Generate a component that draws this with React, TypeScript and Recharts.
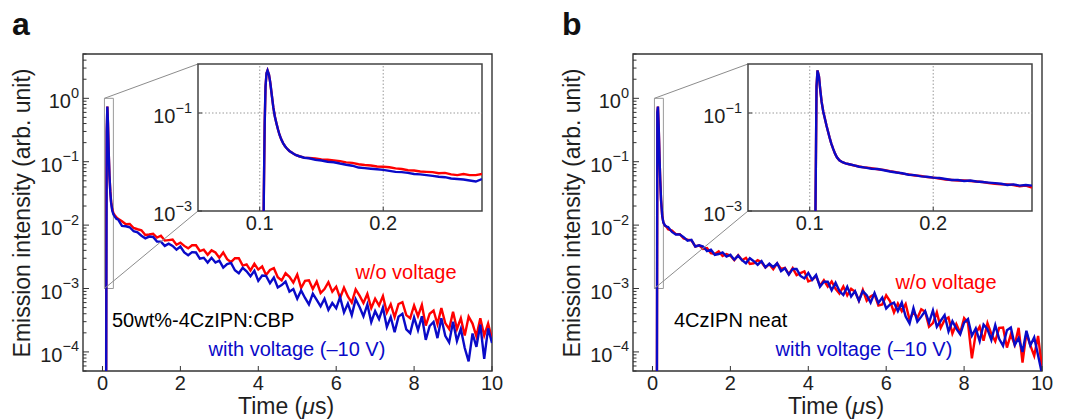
import { Line, LineChart, ReferenceArea, ReferenceLine, XAxis, YAxis } from "recharts";

const FONT = '"Liberation Sans", Arial, Helvetica, sans-serif';
const RED = "#ff0000";
const BLUE = "#0a0ac8";
const INK = "#1e1e1e";
const FRAME = "#333";

// time grid of the main plots (µs)
const mainTime = [
  0.05, 0.09, 0.1, 0.11, 0.125, 0.14, 0.16, 0.18, 0.2, 0.22, 0.25, 0.28, 0.32, 0.36,
  0.4, 0.5, 0.6, 0.7, 0.8, 0.9,
  1.0, 1.1, 1.2, 1.3, 1.4, 1.5, 1.6, 1.7, 1.8, 1.9,
  2.0, 2.1, 2.2, 2.3, 2.4, 2.5, 2.6, 2.7, 2.8, 2.9,
  3.0, 3.1, 3.2, 3.3, 3.4, 3.5, 3.6, 3.7, 3.8, 3.9,
  4.0, 4.1, 4.2, 4.3, 4.4, 4.5, 4.6, 4.7, 4.8, 4.9,
  5.0, 5.1, 5.2, 5.3, 5.4, 5.5, 5.6, 5.7, 5.8, 5.9,
  6.0, 6.1, 6.2, 6.3, 6.4, 6.5, 6.6, 6.7, 6.8, 6.9,
  7.0, 7.1, 7.2, 7.3, 7.4, 7.5, 7.6, 7.7, 7.8, 7.9,
  8.0, 8.1, 8.2, 8.3, 8.4, 8.5, 8.6, 8.7, 8.8, 8.9,
  9.0, 9.1, 9.2, 9.3, 9.4, 9.5, 9.6, 9.7, 9.8, 9.9,
  10.0,
];

// panel a: 50wt%-4CzIPN:CBP
const aNoVoltage = [
  1e-6, 1e-6, 0.02, 0.3, 0.74, 0.42, 0.14, 0.06, 0.035, 0.024, 0.018, 0.0155, 0.0142, 0.0133,
  1.26e-2, 1.15e-2, 1.03e-2, 1.04e-2, 9.0e-3, 8.6e-3,
  8.3e-3, 7.0e-3, 7.1e-3, 7.3e-3, 6.35e-3, 6.8e-3, 5.7e-3, 5.8e-3, 5.9e-3, 4.9e-3,
  5.3e-3, 4.7e-3, 4.3e-3, 4.8e-3, 4.8e-3, 3.9e-3, 4.1e-3, 3.4e-3, 4.0e-3, 3.7e-3,
  3.05e-3, 3.7e-3, 2.9e-3, 2.6e-3, 3.0e-3, 3.0e-3, 2.3e-3, 2.4e-3, 1.93e-3, 2.45e-3,
  1.99e-3, 2.23e-3, 1.64e-3, 1.96e-3, 2.09e-3, 1.51e-3, 1.34e-3, 1.74e-3, 1.53e-3, 1.24e-3,
  1.66e-3, 1.02e-3, 1.32e-3, 1.35e-3, 9.8e-4, 1.29e-3, 8.5e-4, 9.8e-4, 1.26e-3, 8.9e-4,
  1.07e-3, 7.1e-4, 1.03e-3, 7.5e-4, 6.0e-4, 9.7e-4, 7.7e-4, 5.9e-4, 8.2e-4, 4.9e-4,
  6.9e-4, 5.4e-4, 7.6e-4, 4.2e-4, 5.65e-4, 3.55e-4, 5.7e-4, 6.1e-4, 3.8e-4, 3.4e-4,
  5.4e-4, 3.65e-4, 5.5e-4, 2.6e-4, 4.0e-4, 4.5e-4, 2.75e-4, 4.9e-4, 2.85e-4, 2.3e-4,
  4.3e-4, 2.3e-4, 3.4e-4, 1.82e-4, 3.6e-4, 2.8e-4, 1.76e-4, 3.4e-4, 1.82e-4, 2.8e-4,
  1.6e-4,
];
const aWithVoltage = [
  1e-6, 1e-6, 1e-3, 0.3, 0.74, 0.42, 0.14, 0.06, 0.034, 0.023, 0.017, 0.0148, 0.0135, 0.0125,
  1.23e-2, 9.7e-3, 9.6e-3, 9.25e-3, 8.0e-3, 7.7e-3,
  6.8e-3, 6.2e-3, 6.6e-3, 6.5e-3, 5.5e-3, 5.5e-3, 4.7e-3, 5.1e-3, 4.7e-3, 4.1e-3,
  4.6e-3, 3.7e-3, 3.35e-3, 3.75e-3, 3.7e-3, 2.95e-3, 3.05e-3, 2.57e-3, 3.05e-3, 2.57e-3,
  2.75e-3, 2.13e-3, 2.43e-3, 2.54e-3, 1.94e-3, 1.74e-3, 2.12e-3, 1.87e-3, 1.56e-3, 1.9e-3,
  1.32e-3, 1.6e-3, 1.58e-3, 1.21e-3, 1.49e-3, 1.04e-3, 1.13e-3, 1.29e-3, 8.9e-4, 9.8e-4,
  6.9e-4, 9.3e-4, 7.1e-4, 5.6e-4, 8.3e-4, 6.6e-4, 5.25e-4, 6.9e-4, 4.6e-4, 5.9e-4,
  4.9e-4, 7.3e-4, 4.2e-4, 5.8e-4, 3.8e-4, 6.8e-4, 5.1e-4, 3.65e-4, 5.6e-4, 2.95e-4,
  4.4e-4, 3.3e-4, 5.0e-4, 2.47e-4, 3.55e-4, 2.05e-4, 3.6e-4, 4.0e-4, 2.27e-4, 1.98e-4,
  3.5e-4, 2.2e-4, 3.65e-4, 1.55e-4, 2.56e-4, 2.98e-4, 1.65e-4, 3.4e-4, 1.8e-4, 1.41e-4,
  3.0e-4, 1.49e-4, 2.3e-4, 1.15e-4, 7.1e-5, 1.95e-4, 1.2e-4, 2.7e-4, 7.8e-5, 2.35e-4,
  1.38e-4,
];

// panel b: 4CzIPN neat
const bNoVoltage = [
  1e-6, 1e-6, 1e-6, 1e-6, 0.6, 0.74, 0.35, 0.12, 0.05, 0.025, 0.014, 0.011, 0.0098, 0.0094,
  8.6e-3, 8.2e-3, 7.2e-3, 7.2e-3, 6.15e-3, 5.9e-3,
  5.75e-3, 4.6e-3, 4.8e-3, 4.2e-3, 4.35e-3, 3.6e-3, 3.5e-3, 3.85e-3, 3.25e-3, 3.5e-3,
  3.3e-3, 2.8e-3, 3.35e-3, 2.8e-3, 3.05e-3, 2.45e-3, 2.5e-3, 2.8e-3, 2.6e-3, 2.14e-3,
  2.42e-3, 2.02e-3, 2.5e-3, 2.03e-3, 2.12e-3, 1.68e-3, 2.1e-3, 1.63e-3, 1.75e-3, 1.86e-3,
  1.29e-3, 1.37e-3, 1.57e-3, 1.11e-3, 1.35e-3, 1.07e-3, 1.29e-3, 9.9e-4, 8.3e-4, 1.08e-3,
  7.8e-4, 9.9e-4, 8.9e-4, 6.4e-4, 9.5e-4, 6.4e-4, 7.5e-4, 8.1e-4, 5.4e-4, 5.6e-4,
  7.8e-4, 6.3e-4, 4.2e-4, 5.8e-4, 4.4e-4, 5.7e-4, 3.2e-4, 4.3e-4, 3.4e-4, 4.7e-4,
  4.3e-4, 2.5e-4, 2.85e-4, 4.2e-4, 2.4e-4, 3.2e-4, 3.5e-4, 1.95e-4, 2.75e-4, 2.0e-4,
  3.4e-4, 2.85e-4, 7.9e-5, 1.96e-4, 2.5e-4, 1.5e-4, 2.85e-4, 1.92e-4, 1.47e-4, 2.4e-4,
  2.43e-4, 1.17e-4, 1.89e-4, 1.29e-4, 2.4e-4, 6.8e-5, 1.98e-4, 1.27e-4, 8.7e-5, 1.79e-4,
  5.6e-5,
];
const bWithVoltage = [
  1e-6, 1e-6, 1e-6, 1e-6, 0.6, 0.74, 0.35, 0.12, 0.05, 0.025, 0.014, 0.011, 0.0099, 0.0095,
  9.3e-3, 7.8e-3, 7.1e-3, 7.15e-3, 6.45e-3, 5.7e-3,
  5.85e-3, 4.6e-3, 4.8e-3, 4.6e-3, 3.9e-3, 4.1e-3, 3.4e-3, 3.5e-3, 3.7e-3, 3.2e-3,
  3.4e-3, 2.85e-3, 3.3e-3, 2.8e-3, 2.5e-3, 3.0e-3, 2.7e-3, 2.37e-3, 2.7e-3, 2.16e-3,
  2.46e-3, 2.17e-3, 2.5e-3, 1.88e-3, 2.09e-3, 1.66e-3, 2.04e-3, 2.03e-3, 1.58e-3, 1.44e-3,
  1.76e-3, 1.37e-3, 1.63e-3, 1.07e-3, 1.28e-3, 1.28e-3, 9.4e-4, 1.23e-3, 9.1e-4, 7.9e-4,
  1.07e-3, 7.5e-4, 9.1e-4, 6.4e-4, 9.1e-4, 7.85e-4, 6.0e-4, 8.5e-4, 5.9e-4, 7.2e-4,
  4.85e-4, 5.6e-4, 6.0e-4, 4.4e-4, 6.0e-4, 3.6e-4, 2.8e-4, 4.9e-4, 3.0e-4, 3.6e-4,
  4.4e-4, 2.9e-4, 4.5e-4, 2.5e-4, 3.1e-4, 3.8e-4, 2.1e-4, 3.05e-4, 2.33e-4, 1.9e-4,
  2.9e-4, 3.3e-4, 1.8e-4, 2.35e-4, 1.48e-4, 2.7e-4, 2.28e-4, 1.54e-4, 2.65e-4, 1.61e-4,
  1.25e-4, 2.2e-4, 2.42e-4, 1.29e-4, 1.65e-4, 1.0e-4, 2.15e-4, 1.27e-4, 1.69e-4, 8.8e-5,
  4.5e-5,
];

// insets: first 0.28 µs
const insetTime = [
  0.1, 0.1025, 0.1033, 0.104, 0.1047, 0.1055, 0.1063, 0.1075, 0.1085, 0.1096, 0.111, 0.1122,
  0.1135, 0.1148, 0.116, 0.1174, 0.119, 0.1205, 0.122, 0.124, 0.1265, 0.129, 0.132, 0.136,
  0.14, 0.145, 0.15, 0.155, 0.16, 0.165, 0.17, 0.175, 0.18, 0.185, 0.19, 0.195, 0.2, 0.205,
  0.21, 0.215, 0.22, 0.225, 0.23, 0.235, 0.24, 0.245, 0.25, 0.255, 0.26, 0.265, 0.27, 0.275,
  0.28,
];
const aInsetNoVoltage = [
  1e-5, 1e-5, 2e-3, 0.06, 0.35, 0.65, 0.74, 0.6, 0.42, 0.25, 0.13, 0.086,
  0.062, 0.046, 0.036, 0.029, 0.024, 0.021, 0.0188, 0.0168, 0.0152, 0.0139, 0.0131, 0.0123,
  0.0121, 0.0118, 0.0113, 0.0111, 0.0108, 0.0104, 0.0098, 0.0096, 0.009, 0.0087, 0.0085, 0.0081, 0.008, 0.0078,
  0.0074, 0.0072, 0.0068, 0.0067, 0.0064, 0.0063, 0.0062, 0.0059, 0.006, 0.0056, 0.0054, 0.0057, 0.0054, 0.0054,
  0.0057,
];
const aInsetWithVoltage = [
  1e-5, 1e-5, 2e-3, 0.06, 0.35, 0.65, 0.74, 0.6, 0.42, 0.25, 0.13, 0.086,
  0.062, 0.046, 0.036, 0.029, 0.024, 0.021, 0.0188, 0.0168, 0.0152, 0.0139, 0.0131, 0.0122,
  0.0119, 0.0111, 0.0107, 0.0101, 0.0099, 0.0093, 0.0088, 0.0084, 0.0077, 0.0075, 0.0073, 0.0071, 0.0069, 0.0066,
  0.0063, 0.0062, 0.006, 0.0057, 0.0056, 0.0054, 0.0052, 0.005, 0.0049, 0.0046, 0.0045, 0.0044, 0.0042, 0.004,
  0.0045,
];
const bInsetNoVoltage = [
  1e-5, 1e-5, 1e-5, 1e-5, 1.5e-3, 0.35, 0.74, 0.55, 0.3, 0.17, 0.105, 0.078,
  0.056, 0.042, 0.032, 0.024, 0.0185, 0.0148, 0.0125, 0.0108, 0.0099, 0.0094, 0.009, 0.0085,
  0.0081, 0.0077, 0.0075, 0.0071, 0.0069, 0.0065, 0.0062, 0.0058, 0.0056, 0.0053, 0.0052, 0.0049, 0.0048, 0.0046,
  0.0044, 0.0043, 0.0042, 0.0042, 0.0041, 0.004, 0.0039, 0.0037, 0.0036, 0.0035, 0.0035, 0.0034, 0.0032, 0.0033,
  0.003,
];
const bInsetWithVoltage = [
  1e-5, 1e-5, 1e-5, 1e-5, 1.5e-3, 0.35, 0.74, 0.55, 0.3, 0.17, 0.105, 0.078,
  0.056, 0.042, 0.032, 0.024, 0.0185, 0.0148, 0.0125, 0.0108, 0.0099, 0.0094, 0.009, 0.0085,
  0.008, 0.0077, 0.0073, 0.0072, 0.0068, 0.0064, 0.0061, 0.0059, 0.0055, 0.0054, 0.0051, 0.005, 0.0048, 0.0047,
  0.0045, 0.0043, 0.0043, 0.0041, 0.0042, 0.004, 0.0039, 0.0038, 0.0037, 0.0036, 0.0034, 0.0035, 0.0033, 0.0034,
  0.0033,
];

const mainXTicks = [0, 2, 4, 6, 8, 10];
const insetXTicks = [0.1, 0.2];
const insetYTicks = [1e-3, 1e-1];

// layout of one panel (px, panel-relative)
const PW = 540;
const PH = 419;
const MAIN = { left: 83, top: 54, right: 492, bottom: 371 };
const INSET = { left: 198, top: 64, right: 482, bottom: 211 };
const MAIN_X: [number, number] = [-0.5, 10];
const MAIN_Y: [number, number] = [5e-5, 5];
const INSET_X: [number, number] = [0.05, 0.28];
const INSET_Y: [number, number] = [1e-3, 1];

const logTicks = (lo: number, hi: number) => {
  const out: number[] = [];
  for (let e = Math.floor(Math.log10(lo)); e <= Math.ceil(Math.log10(hi)); e++) {
    for (let m = 1; m <= 9; m++) {
      const v = m * 10 ** e;
      if (v >= lo * 0.999 && v <= hi * 1.001) out.push(v);
    }
  }
  return out;
};
const mainYTicks = logTicks(MAIN_Y[0], MAIN_Y[1]);

// inverse of the main plot scales, used to aim the zoom connectors at the inset corners
const pxToX = (px: number) =>
  MAIN_X[0] + ((px - MAIN.left) / (MAIN.right - MAIN.left)) * (MAIN_X[1] - MAIN_X[0]);
const pxToY = (py: number) => {
  const hi = Math.log10(MAIN_Y[1]);
  const lo = Math.log10(MAIN_Y[0]);
  return 10 ** (hi - ((py - MAIN.top) / (MAIN.bottom - MAIN.top)) * (hi - lo));
};

function PowerTick(props: any) {
  const { x, y, payload, gap = 4, majorLen = 6, minorLen = 3.5 } = props;
  const v = payload.value as number;
  const exp = Math.round(Math.log10(v));
  const major = Math.abs(v / 10 ** exp - 1) < 1e-6;
  return (
    <g>
      <line x1={x} y1={y} x2={x + (major ? majorLen : minorLen)} y2={y} stroke={FRAME} strokeWidth={1} />
      {major && (
        <text x={x - gap} y={y + 10} textAnchor="end" fontFamily={FONT} fill={INK}>
          <tspan fontSize={20}>10</tspan>
          <tspan fontSize={14.5} dy={-10.5}>
            {exp < 0 ? `\u2212${-exp}` : `${exp}`}
          </tspan>
        </text>
      )}
    </g>
  );
}

function LinearTick(props: any) {
  const { x, y, payload, len = 5, size = 20 } = props;
  return (
    <g>
      <line x1={x} y1={y} x2={x} y2={y - len} stroke={FRAME} strokeWidth={1} />
      <text x={x} y={y + 19} textAnchor="middle" fontFamily={FONT} fontSize={size} fill={INK}>
        {payload.value}
      </text>
    </g>
  );
}

// axes are 1px thick (recharts skips 0-sized axes), so the margins give 1px back
const margin = (box: typeof MAIN) => ({
  top: box.top,
  left: box.left - 1,
  right: PW - box.right,
  bottom: PH - box.bottom - 1,
});

function MainPlot({ noVoltage, withVoltage }: { noVoltage: number[]; withVoltage: number[] }) {
  const data = mainTime.map((t, i) => ({ t, noVoltage: noVoltage[i], withVoltage: withVoltage[i] }));
  const cornerX = pxToX(INSET.left);
  return (
    <LineChart width={PW} height={PH} data={data} margin={margin(MAIN)}>
      <XAxis
        type="number"
        dataKey="t"
        domain={MAIN_X}
        allowDataOverflow
        ticks={mainXTicks}
        interval={0}
        height={1}
        tickSize={0}
        tickMargin={0}
        axisLine={false}
        tickLine={false}
        tick={(p: any) => <LinearTick {...p} />}
      />
      <YAxis
        type="number"
        scale="log"
        domain={MAIN_Y}
        allowDataOverflow
        ticks={mainYTicks}
        interval={0}
        width={1}
        tickSize={0}
        tickMargin={0}
        axisLine={false}
        tickLine={false}
        tick={(p: any) => <PowerTick {...p} />}
      />
      <Line
        type="linear"
        dataKey="noVoltage"
        stroke={RED}
        strokeWidth={2.4}
        dot={false}
        isAnimationActive={false}
      />
      <Line
        type="linear"
        dataKey="withVoltage"
        stroke={BLUE}
        strokeWidth={2.4}
        dot={false}
        isAnimationActive={false}
      />
      <ReferenceArea
        x1={INSET_X[0]}
        x2={INSET_X[1]}
        y1={INSET_Y[0]}
        y2={INSET_Y[1]}
        fill="none"
        stroke="#9a9a9a"
        strokeWidth={1}
      />
      <ReferenceLine
        segment={[
          { x: INSET_X[0], y: INSET_Y[1] },
          { x: cornerX, y: pxToY(INSET.top) },
        ]}
        stroke="#8c8c8c"
        strokeWidth={1}
      />
      <ReferenceLine
        segment={[
          { x: INSET_X[0], y: INSET_Y[0] },
          { x: cornerX, y: pxToY(INSET.bottom) },
        ]}
        stroke="#8c8c8c"
        strokeWidth={1}
      />
      <ReferenceArea
        x1={MAIN_X[0]}
        x2={MAIN_X[1]}
        y1={MAIN_Y[0]}
        y2={MAIN_Y[1]}
        fill="none"
        stroke={FRAME}
        strokeWidth={1.4}
      />
    </LineChart>
  );
}

function InsetPlot({ noVoltage, withVoltage }: { noVoltage: number[]; withVoltage: number[] }) {
  const data = insetTime.map((t, i) => ({ t, noVoltage: noVoltage[i], withVoltage: withVoltage[i] }));
  return (
    <LineChart width={PW} height={PH} data={data} margin={margin(INSET)}>
      <XAxis
        type="number"
        dataKey="t"
        domain={INSET_X}
        allowDataOverflow
        ticks={insetXTicks}
        interval={0}
        height={1}
        tickSize={0}
        tickMargin={0}
        axisLine={false}
        tickLine={false}
        tick={(p: any) => <LinearTick {...p} size={20} len={4} />}
      />
      <YAxis
        type="number"
        scale="log"
        domain={INSET_Y}
        allowDataOverflow
        ticks={insetYTicks}
        interval={0}
        width={1}
        tickSize={0}
        tickMargin={0}
        axisLine={false}
        tickLine={false}
        tick={(p: any) => <PowerTick {...p} gap={6} majorLen={4} />}
      />
      {insetXTicks.map((v) => (
        <ReferenceLine key={v} x={v} stroke="#9a9a9a" strokeDasharray="1.5 2" strokeWidth={1} />
      ))}
      <ReferenceLine y={insetYTicks[1]} stroke="#9a9a9a" strokeDasharray="1.5 2" strokeWidth={1} />
      <Line
        type="linear"
        dataKey="noVoltage"
        stroke={RED}
        strokeWidth={2.4}
        dot={false}
        isAnimationActive={false}
      />
      <Line
        type="linear"
        dataKey="withVoltage"
        stroke={BLUE}
        strokeWidth={2.4}
        dot={false}
        isAnimationActive={false}
      />
      <ReferenceArea
        x1={INSET_X[0]}
        x2={INSET_X[1]}
        y1={INSET_Y[0]}
        y2={INSET_Y[1]}
        fill="none"
        stroke="#444"
        strokeWidth={1.5}
      />
    </LineChart>
  );
}

type PanelProps = {
  left: number;
  letter: string;
  sample: string;
  sampleX: number;
  noVoltageLabel: [number, number];
  withVoltageLabel: [number, number];
  main: [number[], number[]];
  inset: [number[], number[]];
};

function Panel(p: PanelProps) {
  const abs = { position: "absolute" as const, left: 0, top: 0 };
  return (
    <div style={{ position: "absolute", left: p.left, top: 0, width: PW, height: PH }}>
      <div style={abs}>
        <MainPlot noVoltage={p.main[0]} withVoltage={p.main[1]} />
      </div>
      <div style={abs}>
        <InsetPlot noVoltage={p.inset[0]} withVoltage={p.inset[1]} />
      </div>
      <svg width={PW} height={PH} style={{ ...abs, pointerEvents: "none" }} fontFamily={FONT}>
        <text x={12} y={35} fontSize={32} fontWeight="bold" fill="#111">
          {p.letter}
        </text>
        <text
          transform="translate(30 213) rotate(-90)"
          textAnchor="middle"
          fontSize={23}
          fill={INK}
        >
          Emission intensity (arb. unit)
        </text>
        <text x={286} y={414} textAnchor="middle" fontSize={23} fill={INK}>
          Time (<tspan fontStyle="italic">μ</tspan>s)
        </text>
        <text x={p.sampleX} y={327} fontSize={20} fill="#000">
          {p.sample}
        </text>
        <text x={p.noVoltageLabel[0]} y={p.noVoltageLabel[1]} textAnchor="middle" fontSize={20} fill={RED}>
          w/o voltage
        </text>
        <text
          x={p.withVoltageLabel[0]}
          y={p.withVoltageLabel[1]}
          textAnchor="middle"
          fontSize={20}
          fill={BLUE}
        >
          with voltage (–10 V)
        </text>
      </svg>
    </div>
  );
}

export default function App() {
  return (
    <div
      style={{ position: "absolute", left: 0, top: 0, width: 1070, height: 419, background: "#fff" }}
    >
      <Panel
        left={0}
        letter="a"
        sample="50wt%-4CzIPN:CBP"
        sampleX={112}
        noVoltageLabel={[406, 279]}
        withVoltageLabel={[297, 356]}
        main={[aNoVoltage, aWithVoltage]}
        inset={[aInsetNoVoltage, aInsetWithVoltage]}
      />
      <Panel
        left={550}
        letter="b"
        sample="4CzIPN neat"
        sampleX={124}
        noVoltageLabel={[396, 289]}
        withVoltageLabel={[314, 356]}
        main={[bNoVoltage, bWithVoltage]}
        inset={[bInsetNoVoltage, bInsetWithVoltage]}
      />
    </div>
  );
}
